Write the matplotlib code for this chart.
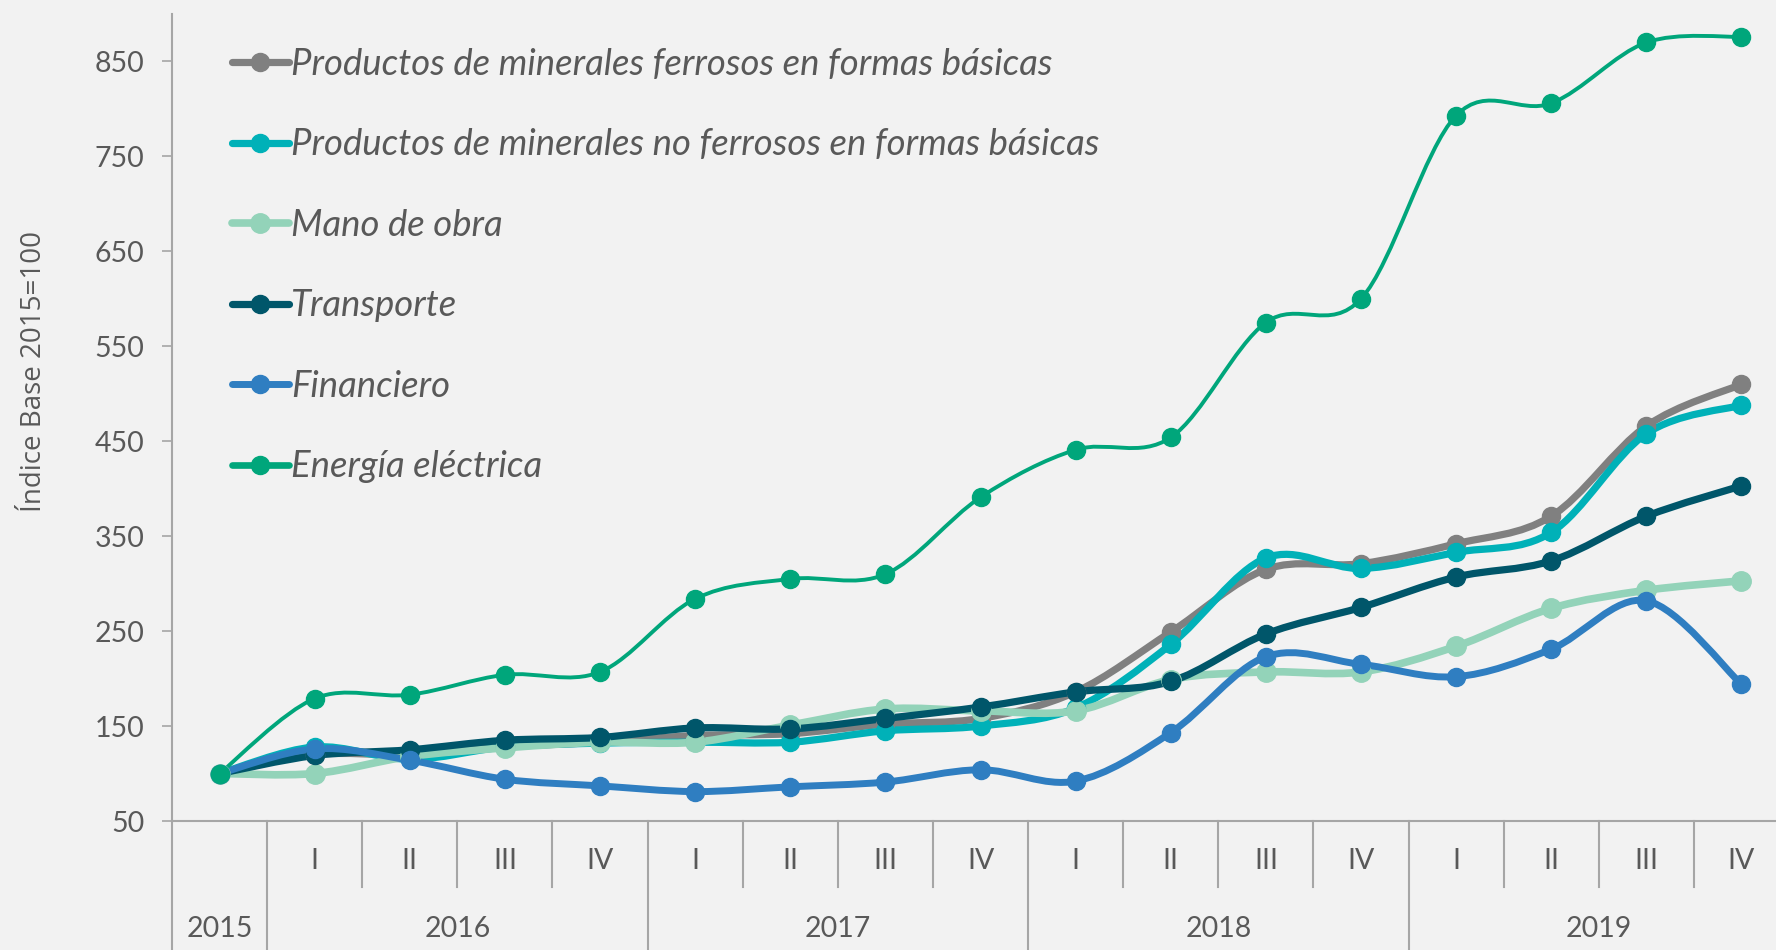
import numpy as np
import matplotlib
matplotlib.use('Agg')
import matplotlib.pyplot as plt
from matplotlib.path import Path
from matplotlib.patches import PathPatch
from matplotlib.lines import Line2D

#%% data
quarters = ['', 'I', 'II', 'III', 'IV', 'I', 'II', 'III', 'IV',
            'I', 'II', 'III', 'IV', 'I', 'II', 'III', 'IV']
years = ['2015', '2016', '2017', '2018', '2019']
year_centers = [0, 2.5, 6.5, 10.5, 14.5]

labels = ['Productos de minerales ferrosos en formas básicas',
          'Productos de minerales no ferrosos en formas básicas',
          'Mano de obra',
          'Transporte',
          'Financiero',
          'Energía eléctrica']

ferrosos = [100, 120, 120, 128, 133, 140, 142, 152, 158, 186, 249, 315, 321, 342, 371, 466, 510]
no_ferrosos = [100, 128, 115, 128, 132, 133, 133, 145, 150, 169, 236, 327, 316, 333, 354, 458, 488]
mano_obra = [100, 100, 118, 127, 133, 133, 151, 168, 166, 166, 199, 207, 207, 234, 274, 293, 303]
transporte = [100, 119, 125, 135, 138, 148, 147, 158, 170, 186, 197, 247, 275, 307, 324, 371, 403]
financiero = [100, 126, 114, 94, 87, 81, 86, 91, 104, 92, 143, 223, 215, 202, 231, 282, 194]
energia = [100, 179, 183, 204, 207, 284, 305, 310, 391, 441, 454, 575, 600, 793, 806, 870, 876]

colors = ['#808080', '#00B1B8', '#93D3B9', '#00566A', '#2F7EC1', '#00A67B']
widths = [5.2, 5.2, 5.5, 5.2, 5.0, 2.8]
msizes = [13, 13, 14, 13, 13, 13]

#%% helpers
def smooth_path(xs, ys):
    # Excel-like smoothed line: cubic bezier segments through the points
    pts = np.column_stack([xs, ys]).astype(float)
    n = len(pts)
    verts = [pts[0]]
    codes = [Path.MOVETO]
    for i in range(n - 1):
        p0 = pts[i - 1] if i > 0 else pts[i]
        p1 = pts[i]
        p2 = pts[i + 1]
        p3 = pts[i + 2] if i + 2 < n else pts[i + 1]
        verts += [p1 + (p2 - p0) / 6, p2 - (p3 - p1) / 6, p2]
        codes += [Path.CURVE4] * 3
    return Path(verts, codes)

#%% figure
bg = '#F2F2F2'
txt = '#595959'
axcol = '#A6A6A6'
plt.rcParams['font.family'] = ['Lato', 'DejaVu Sans']

fig = plt.figure(figsize=(17.76, 9.5), dpi=100, facecolor=bg)
ax = fig.add_axes([172 / 1776, 1 - 821 / 950, 0.9105, (821 - 14) / 950])
ax.set_facecolor(bg)

series = [ferrosos, no_ferrosos, mano_obra, transporte, financiero, energia]
x = np.arange(len(quarters))
handles = []
for vals, c, lw, ms in zip(series, colors, widths, msizes):
    ax.add_patch(PathPatch(smooth_path(x, vals), facecolor='none', edgecolor=c,
                           lw=lw, capstyle='round', joinstyle='round'))
    ax.plot(x, vals, linestyle='none', marker='o', ms=ms, color=c)
    handles.append(Line2D([], [], color=c, lw=max(lw, 4.8), marker='o', ms=ms,
                          solid_capstyle='round'))

ax.set_xlim(-0.5, 16.5)
ax.set_ylim(50, 900)
ax.set_yticks(range(50, 851, 100))
ax.tick_params(axis='y', labelsize=20.5, labelcolor=txt, color=axcol, length=7, width=1.2, pad=13)
ax.set_xticks([])
for s in ['top', 'right']:
    ax.spines[s].set_visible(False)
for s in ['left', 'bottom']:
    ax.spines[s].set_color(axcol)
    ax.spines[s].set_linewidth(1.5)

fig.text(34 / 1776, 1 - 372 / 950, 'Índice Base 2015=100', rotation=90, ha='center',
         va='center', fontsize=20, color=txt, family='Open Sans')

# category axis with two levels
tr = ax.get_xaxis_transform()
for i, q in enumerate(quarters):
    if q:
        ax.text(i, -0.05, q, transform=tr, ha='center', va='center', fontsize=20.5, color=txt)
for yc, yr in zip(year_centers, years):
    ax.text(yc, -0.134, yr, transform=tr, ha='center', va='center', fontsize=20.5, color=txt)
year_bounds = [-0.5, 0.5, 4.5, 8.5, 12.5]
for b in np.arange(0.5, 16.5, 1):
    low = -0.17 if b in year_bounds else -0.082
    ax.plot([b, b], [0, low], transform=tr, color=axcol, lw=1.5, clip_on=False)
ax.plot([-0.5, -0.5], [0, -0.17], transform=tr, color=axcol, lw=1.5, clip_on=False)

leg = ax.legend(handles, labels, loc='upper left', bbox_to_anchor=(0.037, 0.958),
                frameon=False, fontsize=26.3, handlelength=1.56, handletextpad=0.06,
                labelspacing=1.30, borderpad=0, borderaxespad=0)
for t in leg.get_texts():
    t.set_color(txt)
    t.set_style('italic')

fig.savefig('out.png', dpi=100, facecolor=bg)
